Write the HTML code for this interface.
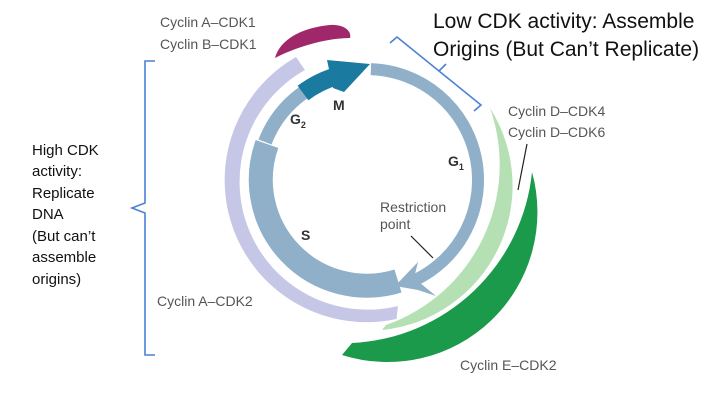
<!DOCTYPE html>
<html><head><meta charset="utf-8"><style>
html,body{margin:0;padding:0;background:#fff;}
svg{display:block}
.l{font-family:"Liberation Sans",sans-serif;font-size:14px;fill:#555}
.b{font-family:"Liberation Sans",sans-serif;font-size:14px;font-weight:bold;fill:#333}
.c{font-family:"Liberation Sans",sans-serif;fill:#111}
</style></head><body>
<svg width="727" height="405" viewBox="0 0 727 405" xmlns="http://www.w3.org/2000/svg">
<!-- lavender -->
<path d="M296,57 A142 142 0 0 0 396.5,319 L398,306 A128 128 0 0 1 305,70 Z" fill="#c6c7e6"/>
<!-- light green -->
<path d="M490,108 A145 145 0 0 1 382,330 L386,325 A170 170 0 0 0 490,108 Z" fill="#b4e0b4"/>
<!-- dark green -->
<path d="M532,172 A150 150 0 0 1 342,355 L352,343 A190 190 0 0 0 532,172 Z" fill="#1a9a4a"/>
<!-- magenta -->
<path d="M275,58 C280,40 300,28 330,25 C345,24 352,32 350,38 C330,38 300,45 275,58 Z" fill="#a0286a"/>
<!-- G1 -->
<path d="M370.9,69.1 A111 111 0 0 1 414,280.6" fill="none" stroke="#8fb0c8" stroke-width="12"/>
<polygon points="395,286 418,262 414,278 436,296 418,290" fill="#8fb0c8"/>
<!-- S -->
<path d="M398,281 A106 106 0 0 1 267,144" fill="none" stroke="#8fb0c8" stroke-width="24"/>
<!-- G2 -->
<path d="M265,142 A108 108 0 0 1 305,91.5" fill="none" stroke="#8fb0c8" stroke-width="14"/>
<!-- M -->
<path d="M303,93 A108 108 0 0 1 337,76" fill="none" stroke="#1a7aa0" stroke-width="18"/>
<polygon points="333,88 327,60 370,64 344,92" fill="#1a7aa0"/>
<!-- labels -->
<text class="b" x="333" y="110">M</text>
<text class="b" x="290" y="124">G<tspan font-size="9" dy="4">2</tspan></text>
<text class="b" x="448" y="166">G<tspan font-size="9" dy="4">1</tspan></text>
<text class="b" x="301" y="240">S</text>
<text class="l" x="380" y="212">Restriction</text>
<text class="l" x="380" y="229">point</text>
<line x1="411" y1="236" x2="433" y2="258" stroke="#222" stroke-width="1.2"/>
<text class="l" x="160" y="27">Cyclin A–CDK1</text>
<text class="l" x="160" y="49">Cyclin B–CDK1</text>
<text class="l" x="157" y="306">Cyclin A–CDK2</text>
<text class="l" x="508" y="116">Cyclin D–CDK4</text>
<text class="l" x="508" y="137">Cyclin D–CDK6</text>
<line x1="527" y1="144" x2="518" y2="190" stroke="#222" stroke-width="1.2"/>
<text class="l" x="460" y="370">Cyclin E–CDK2</text>
<!-- big text -->
<text class="c" x="433" y="28" font-size="21">Low CDK activity: Assemble</text>
<text class="c" x="433" y="56" font-size="21">Origins (But Can’t Replicate)</text>
<g class="c" font-size="15">
<text x="32" y="155">High CDK</text>
<text x="32" y="176">activity:</text>
<text x="32" y="198">Replicate</text>
<text x="32" y="219">DNA</text>
<text x="32" y="241">(But can’t</text>
<text x="32" y="262">assemble</text>
<text x="32" y="284">origins)</text>
</g>
<!-- brackets -->
<path d="M155,61 H145 V203 L132,208 L145,213 V355 H155" fill="none" stroke="#4a80d6" stroke-width="1.6"/>
<path d="M390,43 L397,37 L481,105 L474,111 M439,71 L446,64" fill="none" stroke="#4a80d6" stroke-width="1.6"/>
</svg>
</body></html>
